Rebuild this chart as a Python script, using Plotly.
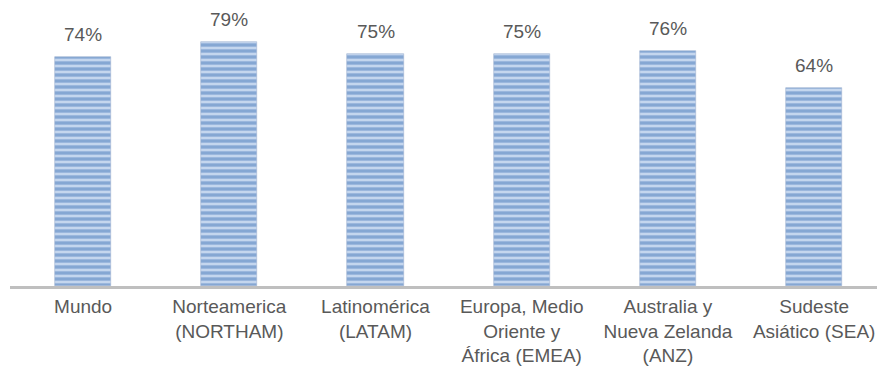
import plotly.graph_objects as go

categories = ["Mundo", "Norteamerica (NORTHAM)", "Latinomérica (LATAM)",
              "Europa, Medio Oriente y África (EMEA)",
              "Australia y Nueva Zelanda (ANZ)", "Sudeste Asiático (SEA)"]
tick_labels = ["Mundo", "Norteamerica<br>(NORTHAM)", "Latinomérica<br>(LATAM)",
               "Europa, Medio<br>Oriente y<br>África (EMEA)",
               "Australia y<br>Nueva Zelanda<br>(ANZ)", "Sudeste<br>Asiático (SEA)"]
values = [0.74, 0.79, 0.75, 0.75, 0.76, 0.64]
value_labels = ["74%", "79%", "75%", "75%", "76%", "64%"]

FONT = "Liberation Sans, Arial, sans-serif"
TEXT_COLOR = "#595959"

x_pos = list(range(len(categories)))

fig = go.Figure(go.Bar(
    x=x_pos,
    y=values,
    width=0.385,
    marker=dict(
        color="#c4d6ee",
        line=dict(color="#9fb4d2", width=0.6),
        pattern=dict(shape="-", fgcolor="#4677b8", bgcolor="#c4d6ee",
                     size=6, solidity=0.55, fillmode="overlay"),
    ),
    hovertext=categories,
))

for xi, v, lab in zip(x_pos, values, value_labels):
    fig.add_annotation(x=xi, y=v, text=lab, showarrow=False,
                       yanchor="bottom", yshift=10,
                       font=dict(family=FONT, size=19, color=TEXT_COLOR))

fig.update_layout(
    width=877, height=368,
    margin=dict(l=10, r=0, t=0, b=82),
    plot_bgcolor="white", paper_bgcolor="white",
    showlegend=False,
    bargap=0,
    font=dict(family=FONT, size=19, color=TEXT_COLOR),
    xaxis=dict(
        range=[-0.5, 5.43],
        tickmode="array", tickvals=x_pos, ticktext=tick_labels,
        showline=True, linecolor="#bfbfbf", linewidth=3,
        showgrid=False, zeroline=False, ticks="",
        tickfont=dict(family=FONT, size=19, color=TEXT_COLOR),
        ticklabelstandoff=1,
        ticklabeloverflow="allow",
        automargin=False,
    ),
    yaxis=dict(range=[0, 0.925], visible=False, showgrid=False, zeroline=False),
)

fig.write_html("out.html")
